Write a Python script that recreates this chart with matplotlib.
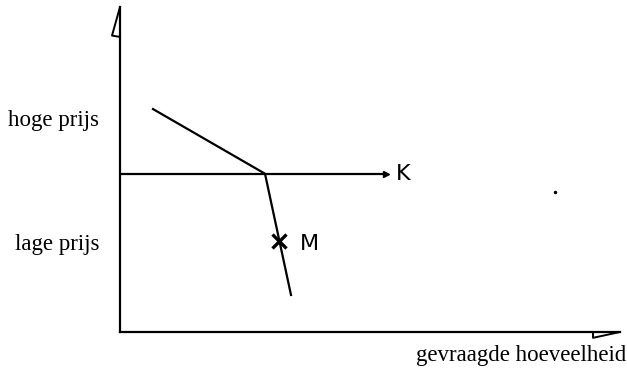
import numpy as np
import matplotlib
matplotlib.use("Agg")
import matplotlib.pyplot as plt

# kinked demand curve (quantity, price) in arbitrary units
demand_q = [0.66, 2.90, 3.42]
demand_p = [6.86, 4.87, 1.14]
price_k = 4.87          # horizontal line K
k_end = 5.32
point_m = (3.18, 2.80)
price_ticks = [6.58, 2.77]
price_labels = ["hoge prijs", "lage prijs"]
x_label = "gevraagde hoeveelheid"

plt.rcParams.update({"font.family": "serif",
                     "font.serif": ["Liberation Serif", "DejaVu Serif"]})

fig = plt.figure(figsize=(6.27, 3.70), dpi=100)
ax = fig.add_axes([120 / 627, 38 / 370, 500 / 627, 325 / 370])
ax.set_xlim(0, 10)
ax.set_ylim(0, 10)
for s in ("top", "right"):
    ax.spines[s].set_visible(False)
for s in ("left", "bottom"):
    ax.spines[s].set_linewidth(1.6)

ax.set_xticks([])
ax.set_yticks(price_ticks)
ax.set_yticklabels(price_labels, fontsize=16.5)
ax.tick_params(axis="y", length=0, pad=15)

# open half-arrowheads on the axes
ax.plot([0, -0.16, 0], [10, 9.12, 9.08], color="black", lw=1.4, clip_on=False)
ax.plot([10, 9.46, 9.46], [0, -0.18, 0], color="black", lw=1.4, clip_on=False)

ax.plot(demand_q, demand_p, color="black", lw=1.6)
ax.plot([0, k_end], [price_k, price_k], color="black", lw=1.6)
ax.plot([k_end], [price_k], marker=">", color="black", ms=4)
ax.text(k_end + 0.2, price_k - 0.02, "K", fontsize=16, family="DejaVu Sans",
        va="center", ha="left")

ax.plot(*point_m, marker="x", color="black", ms=10, mew=2.4)
ax.text(point_m[0] + 0.42, point_m[1] - 0.1, "M", fontsize=16,
        family="DejaVu Sans", va="center", ha="left")

ax.plot([8.7], [4.31], marker="o", color="black", ms=1.5)

ax.text(10.12, -0.71, x_label, fontsize=16.5, ha="right", va="center",
        clip_on=False)

fig.savefig("out.png", dpi=100)
